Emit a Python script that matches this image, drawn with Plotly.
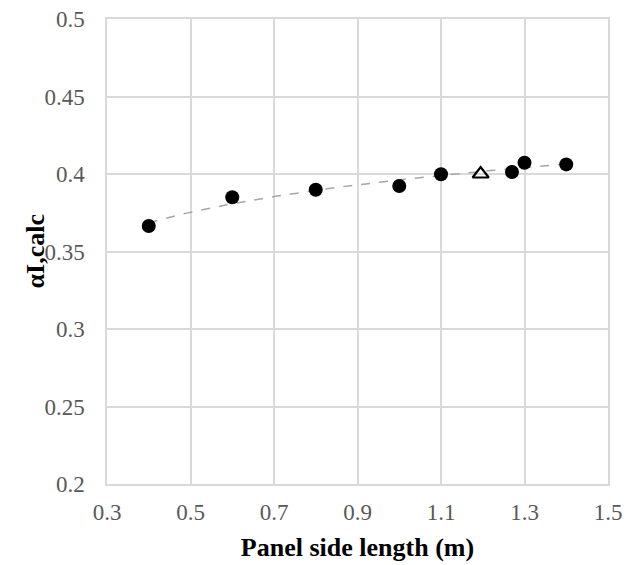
import numpy as np
import plotly.graph_objects as go

# Measured panels
side_length = [0.4, 0.6, 0.8, 1.0, 1.1, 1.27, 1.3, 1.4]
alpha_calc = [0.3665, 0.385, 0.3898, 0.3923, 0.3998, 0.4013, 0.4073, 0.4062]

# Reference panel (open triangle)
ref_length = [1.195]
ref_alpha = [0.400]

# Axis ticks
x_ticks = [0.3, 0.5, 0.7, 0.9, 1.1, 1.3, 1.5]
y_ticks = [0.2, 0.25, 0.3, 0.35, 0.4, 0.45, 0.5]

# Logarithmic trendline through the measured panels
b, a = np.polyfit(np.log(side_length), alpha_calc, 1)
x_fit = np.linspace(min(side_length), max(side_length), 100)
y_fit = a + b * np.log(x_fit)

grid_col = "#d9d9d9"
tick_font = dict(family="Liberation Serif", size=23, color="#595959")
title_font = dict(family="Liberation Serif", size=26, color="black")

W, H = 629, 565
M = dict(l=107, r=21, t=19, b=81)
plot_w = W - M["l"] - M["r"]

fig = go.Figure()
fig.add_trace(go.Scatter(
    x=x_fit, y=y_fit, mode="lines",
    line=dict(color="#a6a6a6", width=1.5, dash="dash"),
    hoverinfo="skip", showlegend=False,
))
fig.add_trace(go.Scatter(
    x=side_length, y=alpha_calc, mode="markers",
    marker=dict(symbol="circle", size=14, color="black"),
    showlegend=False,
))
fig.add_trace(go.Scatter(
    x=ref_length, y=ref_alpha, mode="markers",
    marker=dict(symbol="triangle-up-open", size=14, color="black",
                line=dict(width=2.2, color="black")),
    showlegend=False,
))

# Vertical y-axis title placed 72 px left of the plot area
fig.add_annotation(
    text="<b>αI,calc</b>", font=title_font, textangle=-90,
    xref="paper", yref="paper", x=-72 / plot_w, y=0.5,
    xanchor="center", yanchor="middle", showarrow=False,
)

fig.update_layout(
    width=W, height=H,
    margin=M,
    plot_bgcolor="white", paper_bgcolor="white",
    xaxis=dict(
        range=[0.3, 1.5], tickvals=x_ticks, ticktext=[f"{v:g}" for v in x_ticks],
        showgrid=True, gridcolor=grid_col, gridwidth=1.5,
        showline=True, linecolor=grid_col, linewidth=1.5, mirror=True,
        zeroline=False, ticks="", tickfont=tick_font, ticklabelstandoff=7,
        title=dict(text="<b>Panel side length (m)</b>", font=title_font, standoff=13),
        automargin=False,
    ),
    yaxis=dict(
        range=[0.2, 0.5], tickvals=y_ticks, ticktext=[f"{v:g}" for v in y_ticks],
        showgrid=True, gridcolor=grid_col, gridwidth=1.5,
        showline=True, linecolor=grid_col, linewidth=1.5, mirror=True,
        zeroline=False, ticks="", tickfont=tick_font, ticklabelstandoff=16,
        automargin=False,
    ),
)

fig.write_html("out.html")
